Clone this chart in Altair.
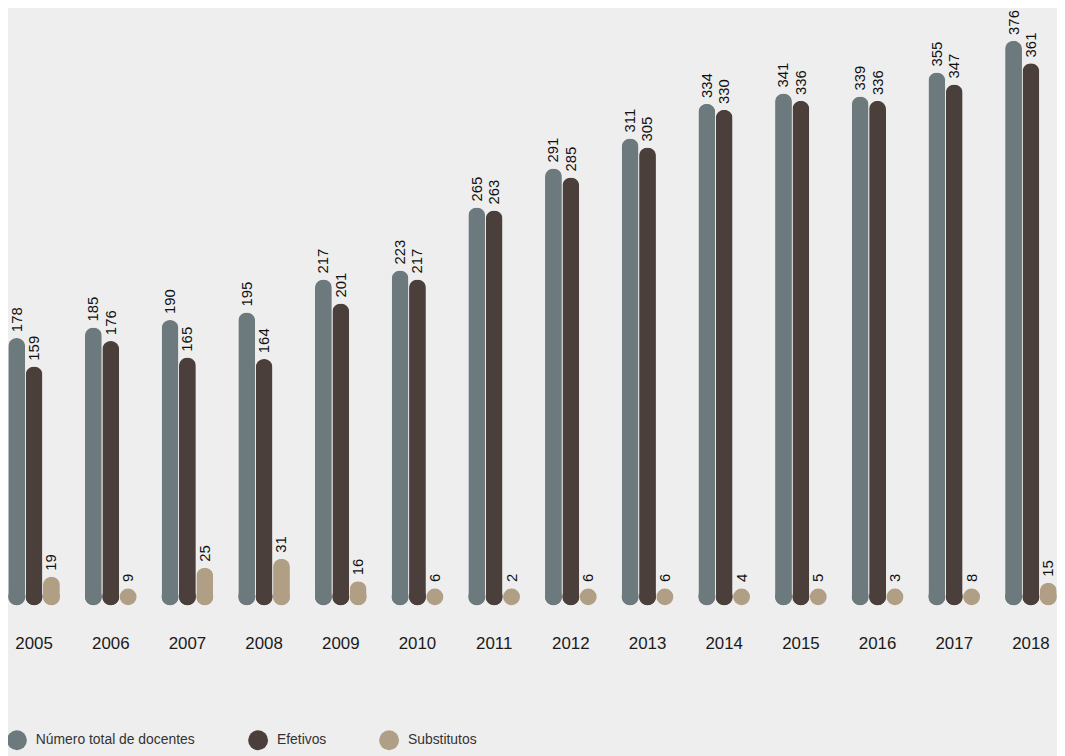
import altair as alt
import pandas as pd

years = ["2005", "2006", "2007", "2008", "2009", "2010", "2011", "2012",
         "2013", "2014", "2015", "2016", "2017", "2018"]
total = [178, 185, 190, 195, 217, 223, 265, 291, 311, 334, 341, 339, 355, 376]
efetivos = [159, 176, 165, 164, 201, 217, 263, 285, 305, 330, 336, 336, 347, 361]
substitutos = [19, 9, 25, 31, 16, 6, 2, 6, 6, 4, 5, 3, 8, 15]

series = ["Número total de docentes", "Efetivos", "Substitutos"]
colors = ["#6c797d", "#4b3f3b", "#b09e85"]

rows = []
for i, y in enumerate(years):
    for s, vals in zip(series, [total, efetivos, substitutos]):
        rows.append({"year": y, "series": s, "value": vals[i]})
df = pd.DataFrame(rows)

FONT = "Liberation Sans"

x = alt.X("year:N", sort=years,
          scale=alt.Scale(paddingInner=0.32, paddingOuter=0),
          axis=alt.Axis(title=None, domain=False, ticks=False, labelAngle=0,
                        labelFontSize=17, labelPadding=39, labelBaseline="middle",
                        labelColor="#1a1a1a", labelFont=FONT))
xo = alt.XOffset("series:N", sort=series,
                 scale=alt.Scale(domain=series, paddingInner=0, paddingOuter=0))
yscale = alt.Scale(domain=[0, 396], nice=False, zero=True)
color = alt.Color("series:N", sort=series,
                  scale=alt.Scale(domain=series, range=colors),
                  legend=alt.Legend(title=None))

base = alt.Chart(df)

bars = base.transform_filter("datum.value >= 12").mark_bar(
    cornerRadius=8.5, width=17
).encode(
    x=x, xOffset=xo,
    y=alt.Y("value:Q", scale=yscale, axis=None),
    color=color,
)

dots = base.transform_calculate(zero="0").mark_circle(
    size=289, opacity=1, yOffset=-8.5
).encode(
    x=x, xOffset=xo,
    y=alt.Y("zero:Q", scale=yscale, axis=None),
    color=alt.Color("series:N", sort=series,
                    scale=alt.Scale(domain=series, range=colors), legend=None),
)

labels = base.transform_calculate(
    pos="max(datum.value, 11.5)"
).mark_text(
    angle=270, align="left", baseline="middle", fontSize=15, font=FONT,
    color="#111111", yOffset=-6
).encode(
    x=x, xOffset=xo,
    y=alt.Y("pos:Q", scale=yscale, axis=None),
    text=alt.Text("value:Q"),
)

chart = alt.layer(bars, dots, labels).properties(
    width=1057, height=599,
    autosize=alt.AutoSizeParams(type="none"),
    padding={"left": 0, "top": 0, "right": 0, "bottom": 149},
).configure(
    background="#eeeeee"
).configure_view(
    stroke=None
).configure_legend(
    orient="none", legendX=-1, legendY=725, direction="horizontal",
    symbolType="circle", symbolSize=400, symbolStrokeWidth=0, symbolOpacity=1,
    labelFontSize=14, labelFont=FONT, labelColor="#333333", labelOffset=9,
    columnPadding=53, padding=0, labelLimit=300,
)

chart.save("out.html", embed_options={"renderer": "svg", "actions": False})
